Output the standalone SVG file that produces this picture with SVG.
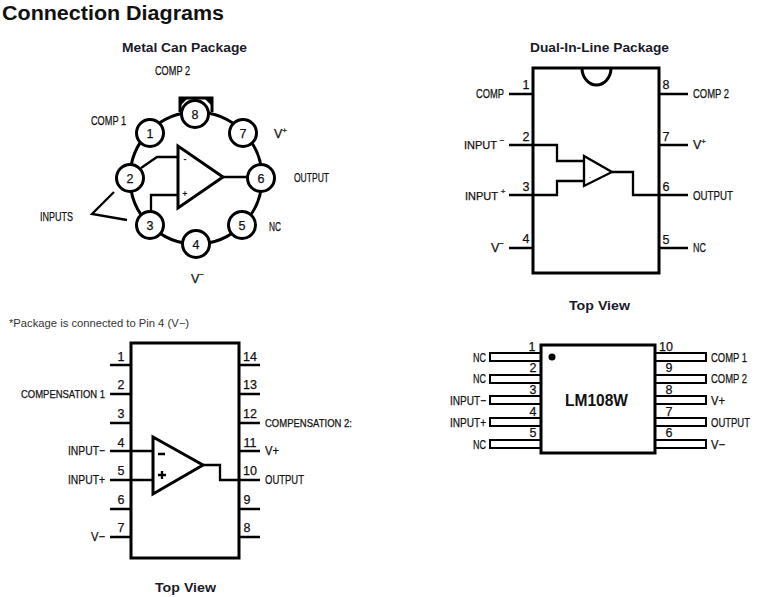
<svg xmlns="http://www.w3.org/2000/svg" width="767" height="597" viewBox="0 0 767 597">
<style>
text{font-family:"Liberation Sans",Arial,sans-serif;fill:#111}
.h{font-size:20px;font-weight:bold}
.t{font-size:13px;font-weight:bold;fill:#1a1a2a}
.l{font-family:"Liberation Sans Narrow","Liberation Sans",Arial,sans-serif;font-size:12.5px;stroke:#111;stroke-width:.25}
.s{font-size:11px}
.n{font-family:"Liberation Sans Narrow","Liberation Sans",Arial,sans-serif;font-size:12.5px;text-anchor:middle;stroke:#111;stroke-width:.25}
.f{font-size:10.5px;fill:#333}
.line{fill:none;stroke:#000;stroke-width:2.300}
.thick{fill:none;stroke:#000;stroke-width:3}
.pin{fill:#fff;stroke:#000;stroke-width:2}
.can{fill:#fff;stroke:#000;stroke-width:3}
.sm{fill:#fff;stroke:#000;stroke-width:2.300}
</style>
<rect width="767" height="597" fill="#fff"/>
<text class="h" x="2" y="20" textLength="222" lengthAdjust="spacingAndGlyphs">Connection Diagrams</text>
<text class="t" x="122" y="52" textLength="125" lengthAdjust="spacingAndGlyphs">Metal Can Package</text>
<text class="t" x="530" y="52" textLength="139" lengthAdjust="spacingAndGlyphs">Dual-In-Line Package</text>
<text class="t" x="569" y="310" textLength="61" lengthAdjust="spacingAndGlyphs">Top View</text>
<text class="t" x="155" y="592" textLength="61" lengthAdjust="spacingAndGlyphs">Top View</text>
<text class="f" x="9" y="327" textLength="180" lengthAdjust="spacingAndGlyphs">*Package is connected to Pin 4 (V−)</text>

<g id="connectors">
<g id="can-wires">
<circle class="thick" cx="196" cy="178" r="66"/>
<path class="thick" d="M180 112V98H212V112"/>
<path d="M181 99H187L181 105ZM211 99H205L211 105Z" fill="#000"/>
<path class="line" d="M141 168L157 157H178M151 212V195H178M223 177H248"/>
<path class="line" d="M114 192L92 214L127 220"/>
</g>
<g id="dip-wires">
<path class="line" d="M509 94H533M509 145H557V161H584M509 195H557V181H584M509 248H533M659 94H688M659 145H688M612 172H633V195H688M659 248H688"/>
</g>
<g id="flat14-wires">
<path class="line" d="M110 365H131M110 394H131M110 423H131M110 451H153M110 480H153M110 509H131M110 537H131M239 365H260M239 394H260M239 423H260M239 451H260M203 465H220V480H260M239 509H260M239 537H260"/>
</g>
</g>

<g id="can-package">
<g id="can-pin-8"><circle class="can" cx="195" cy="114" r="13.500"/><text class="n" x="195" y="118.500">8</text></g>
<g id="can-pin-1"><circle class="can" cx="150" cy="133" r="13.500"/><text class="n" x="150" y="137.500">1</text></g>
<g id="can-pin-7"><circle class="can" cx="243" cy="133" r="13.500"/><text class="n" x="243" y="137.500">7</text></g>
<g id="can-pin-2"><circle class="can" cx="130" cy="178" r="13.500"/><text class="n" x="130" y="182.500">2</text></g>
<g id="can-pin-6"><circle class="can" cx="261" cy="178" r="13.500"/><text class="n" x="261" y="182.500">6</text></g>
<g id="can-pin-3"><circle class="can" cx="150" cy="225" r="13.500"/><text class="n" x="150" y="229.500">3</text></g>
<g id="can-pin-5"><circle class="can" cx="242" cy="225" r="13.500"/><text class="n" x="242" y="229.500">5</text></g>
<g id="can-pin-4"><circle class="can" cx="196" cy="244" r="13.500"/><text class="n" x="196" y="248.500">4</text></g>
<g id="can-opamp"><path class="can" d="M178 146V208L223 177Z"/><text x="185" y="162" font-size="9" font-weight="bold" text-anchor="middle">-</text><text x="185" y="197" font-size="9" font-weight="bold" text-anchor="middle">+</text></g>
<text class="l" x="155" y="75" textLength="35" lengthAdjust="spacingAndGlyphs">COMP 2</text>
<text class="l" x="91" y="125" textLength="35" lengthAdjust="spacingAndGlyphs">COMP 1</text>
<text class="l" x="274" y="138">V<tspan dy="-5" font-size="8">+</tspan></text>
<text class="l" x="294" y="182" textLength="35" lengthAdjust="spacingAndGlyphs">OUTPUT</text>
<text class="l" x="269" y="231" textLength="12" lengthAdjust="spacingAndGlyphs">NC</text>
<text class="l" x="40" y="221" textLength="33" lengthAdjust="spacingAndGlyphs">INPUTS</text>
<text class="l" x="191" y="283">V<tspan dy="-6" font-size="8">−</tspan></text>
</g>

<g id="dip-package">
<rect class="thick" x="533" y="68" width="126" height="205"/>
<path class="thick" d="M582 68A14.500 17 0 0 0 611 68"/>
<path id="dip-opamp" class="sm" d="M584 156V186L612 172Z"/>
<text x="590" y="178" font-size="7" text-anchor="middle">.</text>
<text class="n" x="526" y="89">1</text><text class="n" x="526" y="141">2</text><text class="n" x="526" y="191">3</text><text class="n" x="526" y="243">4</text>
<text class="n" x="666" y="89">8</text><text class="n" x="666" y="141">7</text><text class="n" x="666" y="191">6</text><text class="n" x="666" y="244">5</text>
<text class="l" x="476" y="98" textLength="28" lengthAdjust="spacingAndGlyphs">COMP</text>
<text class="l s" x="464" y="149">INPUT <tspan dy="-6" font-size="8">−</tspan></text>
<text class="l s" x="465" y="200">INPUT <tspan dy="-6" font-size="8">+</tspan></text>
<text class="l" x="491" y="252">V<tspan dy="-6" font-size="8">−</tspan></text>
<text class="l" x="693" y="98" textLength="36" lengthAdjust="spacingAndGlyphs">COMP 2</text>
<text class="l" x="693" y="149">V<tspan dy="-5" font-size="8">+</tspan></text>
<text class="l" x="693" y="200" textLength="40" lengthAdjust="spacingAndGlyphs">OUTPUT</text>
<text class="l" x="693" y="252" textLength="13" lengthAdjust="spacingAndGlyphs">NC</text>
</g>

<g id="flat14-package">
<rect class="thick" x="131" y="343" width="108" height="215"/>
<path id="flat14-opamp" class="can" d="M153 437V494L203 465Z"/>
<path class="line" d="M158 454H165M158 475H166M162 471V479"/>
<text class="n" x="121" y="361">1</text><text class="n" x="121" y="389">2</text><text class="n" x="121" y="418">3</text><text class="n" x="121" y="447">4</text><text class="n" x="121" y="475">5</text><text class="n" x="121" y="504">6</text><text class="n" x="121" y="532">7</text>
<text class="n" x="250" y="361">14</text><text class="n" x="250" y="389">13</text><text class="n" x="250" y="418">12</text><text class="n" x="250" y="447">11</text><text class="n" x="250" y="475">10</text><text class="n" x="247" y="504">9</text><text class="n" x="247" y="532">8</text>
<text class="l s" x="21" y="398" textLength="84" lengthAdjust="spacingAndGlyphs">COMPENSATION 1</text>
<text class="l" x="68" y="455" textLength="37" lengthAdjust="spacingAndGlyphs">INPUT−</text>
<text class="l" x="68" y="484" textLength="37" lengthAdjust="spacingAndGlyphs">INPUT+</text>
<text class="l" x="91" y="541" textLength="14" lengthAdjust="spacingAndGlyphs">V−</text>
<text class="l s" x="265" y="427" textLength="87" lengthAdjust="spacingAndGlyphs">COMPENSATION 2:</text>
<text class="l" x="265" y="455" textLength="14" lengthAdjust="spacingAndGlyphs">V+</text>
<text class="l" x="265" y="484" textLength="39" lengthAdjust="spacingAndGlyphs">OUTPUT</text>
</g>

<g id="lm108w-package">
<rect class="pin" x="490" y="353" width="51" height="8"/><rect class="pin" x="490" y="375" width="51" height="8"/><rect class="pin" x="490" y="396" width="51" height="8"/><rect class="pin" x="490" y="418" width="51" height="8"/><rect class="pin" x="490" y="440" width="51" height="8"/>
<rect class="pin" x="655" y="353" width="51" height="8"/><rect class="pin" x="655" y="375" width="51" height="8"/><rect class="pin" x="655" y="396" width="51" height="8"/><rect class="pin" x="655" y="418" width="51" height="8"/><rect class="pin" x="655" y="440" width="51" height="8"/>
<rect class="can" x="541" y="345" width="114" height="108"/>
<circle cx="552" cy="357" r="3.500" fill="#000"/>
<text x="565" y="406" font-size="17" font-weight="bold" textLength="63" lengthAdjust="spacingAndGlyphs">LM108W</text>
<text class="n" x="532" y="351">1</text><text class="n" x="533" y="372">2</text><text class="n" x="533" y="394">3</text><text class="n" x="533" y="416">4</text><text class="n" x="533" y="437">5</text>
<text class="n" x="666" y="351">10</text><text class="n" x="669" y="372">9</text><text class="n" x="669" y="394">8</text><text class="n" x="669" y="416">7</text><text class="n" x="669" y="437">6</text>
<text class="l" x="473" y="362" textLength="13" lengthAdjust="spacingAndGlyphs">NC</text>
<text class="l" x="473" y="383" textLength="13" lengthAdjust="spacingAndGlyphs">NC</text>
<text class="l" x="450" y="405" textLength="36" lengthAdjust="spacingAndGlyphs">INPUT−</text>
<text class="l" x="450" y="427" textLength="36" lengthAdjust="spacingAndGlyphs">INPUT+</text>
<text class="l" x="473" y="449" textLength="13" lengthAdjust="spacingAndGlyphs">NC</text>
<text class="l" x="711" y="362" textLength="36" lengthAdjust="spacingAndGlyphs">COMP 1</text>
<text class="l" x="711" y="383" textLength="36" lengthAdjust="spacingAndGlyphs">COMP 2</text>
<text class="l" x="711" y="405" textLength="14" lengthAdjust="spacingAndGlyphs">V+</text>
<text class="l" x="711" y="427" textLength="39" lengthAdjust="spacingAndGlyphs">OUTPUT</text>
<text class="l" x="711" y="449" textLength="14" lengthAdjust="spacingAndGlyphs">V−</text>
</g>
</svg>
